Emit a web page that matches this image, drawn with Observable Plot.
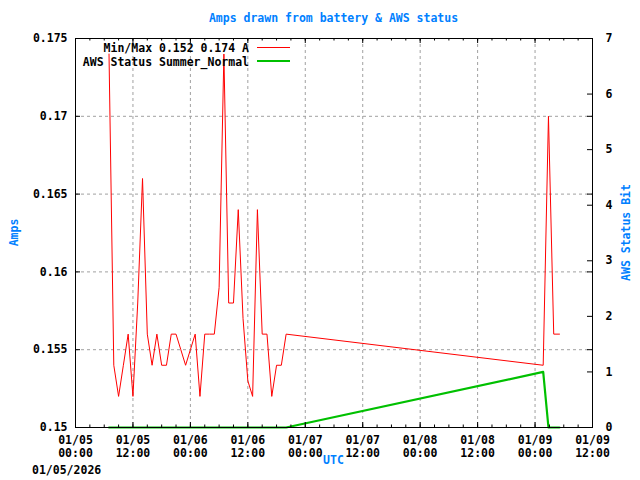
<!DOCTYPE html>
<html><head><meta charset="utf-8">
<script src="https://cdn.jsdelivr.net/npm/d3@7"></script>
<script src="https://cdn.jsdelivr.net/npm/@observablehq/plot@0.6"></script>
<style>
body{margin:0;background:#fff;}
</style></head><body><div id="chart"></div>
<script>
// ---- data ----
const times = [
 "2026-01-05T07:00Z","2026-01-05T08:00Z","2026-01-05T09:00Z","2026-01-05T10:00Z","2026-01-05T11:00Z",
 "2026-01-05T12:00Z","2026-01-05T13:00Z","2026-01-05T14:00Z","2026-01-05T15:00Z","2026-01-05T16:00Z",
 "2026-01-05T17:00Z","2026-01-05T18:00Z","2026-01-05T19:00Z","2026-01-05T20:00Z","2026-01-05T21:00Z",
 "2026-01-05T22:00Z","2026-01-05T23:00Z","2026-01-06T00:00Z","2026-01-06T01:00Z","2026-01-06T02:00Z",
 "2026-01-06T03:00Z","2026-01-06T04:00Z","2026-01-06T05:00Z","2026-01-06T06:00Z","2026-01-06T07:00Z",
 "2026-01-06T08:00Z","2026-01-06T09:00Z","2026-01-06T10:00Z","2026-01-06T11:00Z","2026-01-06T12:00Z",
 "2026-01-06T13:00Z","2026-01-06T14:00Z","2026-01-06T15:00Z","2026-01-06T16:00Z","2026-01-06T17:00Z",
 "2026-01-06T18:00Z","2026-01-06T19:00Z","2026-01-06T20:00Z",
 "2026-01-09T01:42Z","2026-01-09T02:48Z","2026-01-09T03:54Z","2026-01-09T05:06Z"
];
const amps = [
 0.174,0.154,0.152,0.154,0.156,
 0.152,0.158,0.166,0.156,0.154,
 0.156,0.154,0.154,0.156,0.156,
 0.155,0.154,0.155,0.156,0.152,
 0.156,0.156,0.156,0.159,0.174,
 0.158,0.158,0.164,0.157,0.153,
 0.152,0.164,0.156,0.156,0.152,
 0.154,0.154,0.156,
 0.154,0.170,0.156,0.156
];
const awsStatus = [
 0,0,0,0,0, 0,0,0,0,0, 0,0,0,0,0, 0,0,0,0,0,
 0,0,0,0,0, 0,0,0,0,0, 0,0,0,0,0, 0,0,0,
 1,0,0,0
];
const yTicks = [0.15,0.155,0.16,0.165,0.17,0.175];
const yTickLabels = ["0.15","0.155","0.16","0.165","0.17","0.175"];
const statusTicks = [0,1,2,3,4,5,6,7];
const xStart = "2026-01-05T00:00Z", xEnd = "2026-01-09T12:00Z";
const titleText = "Amps drawn from battery & AWS status";
const legendAmps = "Min/Max 0.152 0.174 A";
const legendStatus = "AWS Status Summer_Normal";

// ---- build ----
const W = 640, H = 480, mL = 75, mR = 48, mT = 38, mB = 53;
const innerW = W - mL - mR, innerH = H - mT - mB;
const t0 = new Date(xStart), t1 = new Date(xEnd);
const rows = times.map((t,i) => ({t: new Date(t), a: amps[i], s: awsStatus[i]}));
const yMin = 0.15, yMax = 0.175, sMax = 7;
const toAmps = s => yMin + s * (yMax - yMin) / sMax;
const xMajor = d3.utcHour.every(12).range(t0, new Date(+t1 + 1));
const xMinor = d3.utcHour.every(3).range(t0, new Date(+t1 + 1));
const grid = {stroke:"#a0a0a0", strokeOpacity:1, strokeDasharray:"3,3", strokeWidth:1};
const tk = {stroke:"#000", strokeWidth:1};

const chart = Plot.plot({
  width: W, height: H,
  marginLeft: mL, marginRight: mR, marginTop: mT, marginBottom: mB,
  style: {fontFamily:"'DejaVu Sans Mono', monospace", fontSize:"11.5px", fontWeight:"bold", background:"#fff", color:"#000", overflow:"visible"},
  x: {type:"utc", domain:[t0, t1]},
  y: {domain:[yMin, yMax]},
  marks: [
    Plot.gridX(xMajor.slice(1,-1), grid),
    Plot.gridY(yTicks.slice(1,-1), grid),
    Plot.line(rows, {x:"t", y:"a", stroke:"#ff0000", strokeWidth:1}),
    Plot.line(rows, {x:"t", y: d => toAmps(d.s), stroke:"#00c000", strokeWidth:2.2}),
    Plot.frame({stroke:"#000"}),
    // inward ticks (bottom & mirrored top)
    Plot.tickX(xMajor, {...tk, insetTop: innerH - 5}),
    Plot.tickX(xMinor, {...tk, insetTop: innerH - 2.5}),
    Plot.tickX(xMajor, {...tk, insetBottom: innerH - 5}),
    Plot.tickX(xMinor, {...tk, insetBottom: innerH - 2.5}),
    // inward ticks left, mirrored right, and status ticks right
    Plot.tickY(yTicks, {...tk, insetRight: innerW - 5}),
    Plot.tickY(yTicks, {...tk, insetLeft: innerW - 5}),
    Plot.tickY(statusTicks.map(toAmps), {...tk, insetLeft: innerW - 5}),
    // labels
    Plot.axisX(xMajor, {anchor:"bottom", tickSize:0, tickPadding:7, lineHeight:1.16, tickFormat: d3.utcFormat("%m/%d\n%H:%M"), label:null}),
    Plot.axisY(yTicks, {anchor:"left", tickSize:0, tickPadding:8, tickFormat: d => yTickLabels[yTicks.indexOf(d)], label:null}),
    Plot.axisY(statusTicks.map(toAmps), {anchor:"right", tickSize:0, tickPadding:13, tickFormat: d => String(Math.round((d - yMin) * sMax / (yMax - yMin))), label:null})
  ]
});
document.getElementById("chart").appendChild(chart);

// ---- annotations ----
const svg = d3.select(chart);
const blue = "#0080ff";
const cx = mL + innerW / 2, cy = mT + innerH / 2;
const g = svg.append("g").attr("font-family","'DejaVu Sans Mono', monospace").attr("font-size","11.5px").attr("font-weight","bold").attr("text-anchor","start");
g.append("text").attr("x", cx).attr("y", 18).attr("dy","0.35em").attr("text-anchor","middle").attr("fill", blue).text(titleText);
g.append("text").attr("transform", `translate(14,${cy}) rotate(-90)`).attr("dy","0.35em").attr("text-anchor","middle").attr("fill", blue).text("Amps");
g.append("text").attr("transform", `translate(626,${cy}) rotate(-90)`).attr("dy","0.35em").attr("text-anchor","middle").attr("fill", blue).text("AWS Status Bit");
g.append("text").attr("x", cx).attr("y", 460).attr("dy","0.35em").attr("text-anchor","middle").attr("fill", blue).text("UTC");
g.append("text").attr("x", 32).attr("y", 469.5).attr("dy","0.35em").attr("text-anchor","start").attr("fill", "#000").text(d3.utcFormat("%m/%d/%Y")(t0));
// legend
g.append("text").attr("x", 249).attr("y", 48).attr("dy","0.35em").attr("text-anchor","end").attr("fill","#000").text(legendAmps);
g.append("text").attr("x", 249).attr("y", 62).attr("dy","0.35em").attr("text-anchor","end").attr("fill","#000").text(legendStatus);
g.append("line").attr("x1",257).attr("x2",290).attr("y1",47.5).attr("y2",47.5).attr("stroke","#ff0000").attr("stroke-width",1);
g.append("line").attr("x1",257).attr("x2",290).attr("y1",61).attr("y2",61).attr("stroke","#00c000").attr("stroke-width",2.2);
</script></body></html>
